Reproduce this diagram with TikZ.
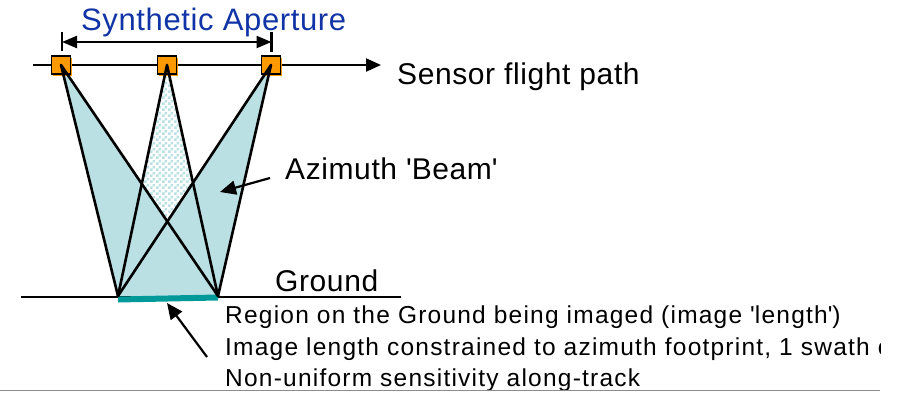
\documentclass[tikz,border=0pt]{standalone}
\usepackage{fontspec}
\setmainfont{Liberation Sans}
\usetikzlibrary{arrows.meta,patterns,shadows,backgrounds}

% fine two-colour checkerboard used for the central beam
\pgfdeclarepatternformonly{finechecker}{\pgfpointorigin}{\pgfpoint{6pt}{6pt}}{\pgfpoint{6pt}{6pt}}{%
  \pgfpathrectangle{\pgfpointorigin}{\pgfpoint{3pt}{3pt}}%
  \pgfpathrectangle{\pgfpoint{3pt}{3pt}}{\pgfpoint{3pt}{3pt}}%
  \pgfusepath{fill}}

\definecolor{beamblue}{RGB}{186,224,228}
\definecolor{footteal}{RGB}{0,153,153}
\definecolor{sensororange}{RGB}{255,153,0}
\definecolor{titleblue}{RGB}{16,52,166}
\definecolor{rulegray}{RGB}{140,140,140}

\tikzset{
  sensor/.style={draw=black, fill=sensororange, line width=1.3pt,
    minimum width=19pt, minimum height=18pt, inner sep=0pt,
    general shadow={fill=sensororange, shadow xshift=1.6pt, shadow yshift=-1.6pt}},
  beamline/.style={line width=2.6pt, line cap=round, line join=round},
  bigtext/.style={font=\fontsize{30}{36}\selectfont\addfontfeature{LetterSpace=2},
    inner sep=0pt, anchor=base west},
  smalltext/.style={font=\fontsize{24.5}{30}\selectfont\addfontfeature{LetterSpace=5},
    inner sep=0pt, anchor=base west},
  pointer/.style={line width=2.2pt, -{Triangle[length=16pt,width=14pt]}},
}

\begin{document}
\begin{tikzpicture}[x=1pt,y=-1pt]
\useasboundingbox (0,0) rectangle (904,393);

% sensor positions along the flight path
\node[sensor] (s1) at (61,65) {};
\node[sensor] (s2) at (167,65) {};
\node[sensor] (s3) at (271,65) {};

% ends of the flight path and of the ground
\coordinate (fpL) at (33,65);
\coordinate (fpR) at (381,65);
\coordinate (gndL) at (21,297);
\coordinate (gndR) at (401,297);

% footprint edges on the ground
\coordinate (gl) at (118,296);
\coordinate (gr) at (218,296);

\begin{scope}[on background layer]
  % central beam (checkered where it is not overlapped)
  \fill[pattern=finechecker, pattern color=beamblue] (s2.center) -- (gl) -- (gr) -- cycle;
  % outer beams
  \fill[beamblue] (s1.center) -- (gl) -- (gr) -- cycle;
  \fill[beamblue] (s3.center) -- (gl) -- (gr) -- cycle;
  % flight path
  \draw[line width=2.2pt, -{Triangle[length=15pt,width=13pt]}] (fpL) -- (fpR);
\end{scope}

% ground and the imaged region on it
\draw[line width=2.3pt] (gndL) -- (gndR);
\fill[footteal] (118,296.5) -- (218,294.5) -- (218,300.5) -- (118,302.5) -- cycle;

% beam edges
\draw[beamline] (s1.center) -- (gl) (s1.center) -- (gr);
\draw[beamline] (s2.center) -- (gl) (s2.center) -- (gr);
\draw[beamline] (s3.center) -- (gl) (s3.center) -- (gr);

% synthetic aperture dimension
\coordinate (apL) at (62,42);
\coordinate (apR) at (271.5,42);
\draw[line width=2.2pt] ([yshift=10pt]apL) -- ([yshift=-9pt]apL);
\draw[line width=2.2pt] ([yshift=10pt]apR) -- ([yshift=-10pt]apR);
\draw[line width=2.2pt, {Triangle[length=15pt,width=12pt]}-{Triangle[length=15pt,width=12pt]}] (apL) -- (apR);

% labels
\node[bigtext, text=titleblue, font=\fontsize{31}{36}\selectfont\addfontfeature{LetterSpace=2}] (aptext) at (81,31) {Synthetic Aperture};
\node[bigtext] (fptext) at (397,85) {Sensor flight path};
\node[bigtext] (beamtext) at (285,179) {Azimuth \textquotesingle Beam\textquotesingle};
\node[bigtext] (gndtext) at (275,291) {Ground};

% pointers
\coordinate (beamtip) at (220,192);
\draw[pointer] (270,178) -- (beamtip);
\coordinate (foottip) at (167,303);
\draw[pointer] (207,357) -- (foottip);

% notes below the ground
\begin{scope}
  \clip (0,0) rectangle (880,393);
  \node[smalltext] (n1) at (225,323.3) {Region on the Ground being imaged (image \textquotesingle length\textquotesingle)};
  \node[smalltext] (n2) at (225,355) {Image length constrained to azimuth footprint, 1 swath o};
  \node[smalltext] (n3) at (225,386) {Non-uniform sensitivity along-track};
\end{scope}

% rule at the foot
\coordinate (ruleL) at (0,390.5);
\coordinate (ruleR) at (880,390.5);
\draw[rulegray, line width=1.4pt] (ruleL) -- (ruleR);
\end{tikzpicture}
\end{document}
